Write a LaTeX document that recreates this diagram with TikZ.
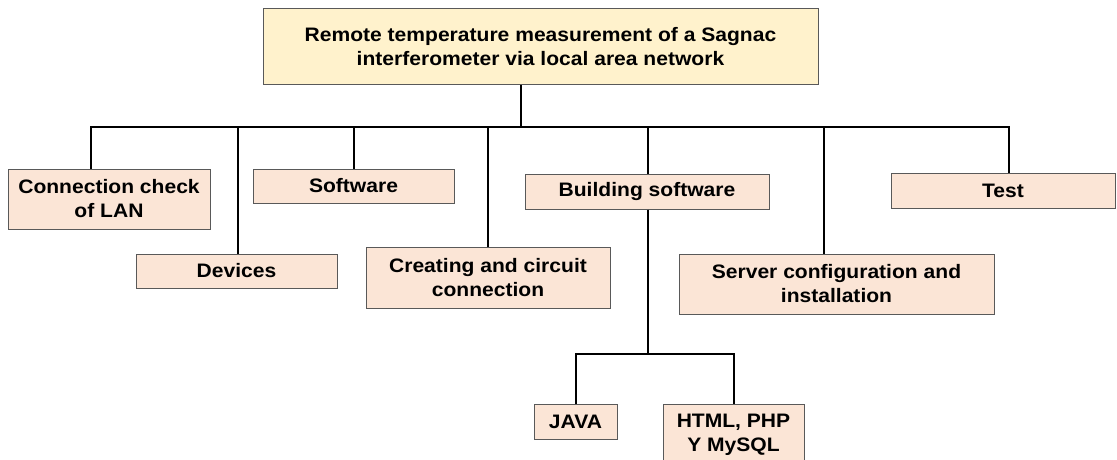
\documentclass[tikz,border=0pt]{standalone}
\usepackage{fontspec}
\setmainfont{Liberation Sans}[FakeStretch=1.08]
\usepackage{xcolor}
\usepackage{tikz}

\definecolor{titlefill}{HTML}{FFF2CC}
\definecolor{taskfill}{HTML}{FBE5D6}
\definecolor{boxline}{HTML}{595959}

\begin{document}
\begin{tikzpicture}[
    x=1pt, y=1pt,
    block/.style={rectangle, draw=boxline, line width=1pt, inner sep=0pt, align=center, font=\fontsize{19.5}{24}\selectfont\bfseries},
    title_block/.style={block, fill=titlefill},
    task_block/.style={block, fill=taskfill},
    link/.style={line width=2pt}
]
\useasboundingbox (0,0) rectangle (1117,-460);

% Nodes
\node[title_block, minimum width=555pt, minimum height=76pt] (title) at (540.5,-47) {Remote temperature measurement of a Sagnac\\interferometer via local area network};

\node[task_block, minimum width=202pt, minimum height=60pt] (conn) at (109,-199) {Connection check\\of LAN};
\node[task_block, minimum width=201pt, minimum height=34pt] (devices) at (236.5,-271) {Devices};
\node[task_block, minimum width=201pt, minimum height=34pt] (software) at (353.5,-186) {Software};
\node[task_block, minimum width=244pt, minimum height=61pt] (creating) at (488,-277.5) {Creating and circuit\\connection};
\node[task_block, minimum width=244pt, minimum height=35pt] (building) at (647,-191.5) {Building software};
\node[task_block, minimum width=315pt, minimum height=60pt] (server) at (836.5,-284) {Server configuration and\\installation};
\node[task_block, minimum width=224pt, minimum height=35pt] (test) at (1003,-190.5) {Test};

% Sub-tasks of building software
\node[task_block, minimum width=83pt, minimum height=35pt] (java) at (575.5,-421.5) {JAVA};
\node[task_block, minimum width=141pt, minimum height=61pt] (html) at (733.5,-434.5) {HTML, PHP\\Y MySQL};

% Tree lines
\coordinate (junction) at (521,-127);
\draw[link] ([xshift=-19.5pt]title.south) -- (junction);
\draw[link] ([xshift=-18pt]conn.north) |- (junction);
\draw[link] ([xshift=1.5pt]devices.north) |- (junction);
\draw[link] (software.north) |- (junction);
\draw[link] (creating.north) |- (junction);
\draw[link] ([xshift=1pt]building.north) |- (junction);
\draw[link] ([xshift=-12.5pt]server.north) |- (junction);
\draw[link] ([xshift=6pt]test.north) |- (junction);

\coordinate (subjunction) at (648,-354);
\draw[link] ([xshift=1pt]building.south) -- (subjunction);
\draw[link] (java.north) |- (subjunction);
\draw[link] (html.north) |- (subjunction);

\end{tikzpicture}
\end{document}
